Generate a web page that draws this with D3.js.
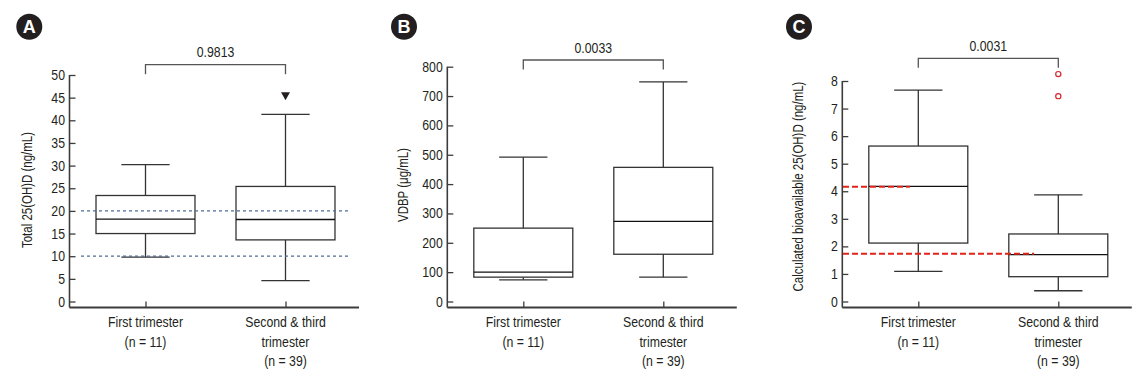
<!DOCTYPE html>
<html><head><meta charset="utf-8">
<script src="https://cdn.jsdelivr.net/npm/d3@7"></script>
<style>html,body{margin:0;padding:0;background:#fff;}svg{display:block;}</style>
</head><body>
<svg id="chart" width="1142" height="376"></svg>
<script>
// ---------- data ----------
const groups = ["First trimester", "Second & third trimester"];
const groupLines = [["First trimester", "(n = 11)"], ["Second & third", "trimester", "(n = 39)"]];

// Panel A: Total 25(OH)D (ng/mL)
const aLow = [9.8, 4.6];
const aQ1 = [15.0, 13.6];
const aMed = [18.2, 18.1];
const aQ3 = [23.4, 25.4];
const aHigh = [30.2, 41.3];
const aOutliers = [[], [45.3]];
const aTicks = [0, 5, 10, 15, 20, 25, 30, 35, 40, 45, 50];
const aRefLines = [10, 20];
const aP = "0.9813";

// Panel B: VDBP (μg/mL)
const bLow = [74, 83];
const bQ1 = [83, 161];
const bMed = [100, 273];
const bQ3 = [250, 457];
const bHigh = [492, 748];
const bOutliers = [[], []];
const bTicks = [0, 100, 200, 300, 400, 500, 600, 700, 800];
const bP = "0.0033";

// Panel C: Calculated bioavailable 25(OH)D (ng/mL)
const cLow = [1.09, 0.39];
const cQ1 = [2.12, 0.90];
const cMed = [4.18, 1.70];
const cQ3 = [5.64, 2.45];
const cHigh = [7.67, 3.87];
const cOutliers = [[], [7.45, 8.25]];
const cTicks = [0, 1, 2, 3, 4, 5, 6, 7, 8];
const cRefLines = [4.16, 1.73];
const cP = "0.0031";

// ---------- font detection ----------
const svg = d3.select("#chart");
function measure(fam) {
  const t = svg.append("text").attr("font-family", fam).attr("font-size", 15).text("First trimester (n = 11)");
  const w = t.node().getComputedTextLength(); t.remove(); return w;
}
const wN = measure("'Liberation Sans Narrow'"), wR = measure("'Liberation Sans'");
let FAM, SX;
if (wN < wR * 0.9) { FAM = "'Liberation Sans Narrow', sans-serif"; SX = 1; }
else { FAM = "'Liberation Sans', Arial, sans-serif"; SX = 0.82; }

function addText(parent, x, y, str, o = {}) {
  const g = parent.append("g").attr("transform", `translate(${x},${y})` + (o.rotate ? ` rotate(${o.rotate})` : ""));
  return g.append("text").attr("transform", `scale(${o.noScale ? 1 : SX},1)`)
    .attr("font-family", o.family || FAM).attr("font-size", o.size || 15)
    .attr("font-weight", o.weight || "normal")
    .attr("text-anchor", o.anchor || "middle").attr("fill", o.fill || "#231f20")
    .attr("dominant-baseline", o.baseline || "auto").text(str);
}

const AX = "#3c3c3c";
const BASE = 307.5, ZERO = 301.5;

function panel(cfg) {
  const g = svg.append("g");
  const ax = cfg.axisX;
  const y = d3.scaleLinear().domain([0, d3.max(cfg.ticks)]).range([ZERO, cfg.top]);
  const x = d3.scaleBand().domain(groups).range([ax + 6, ax + 286]).padding(0);
  const cx = d => x(d) + x.bandwidth() / 2;
  const boxW = x.bandwidth() * 0.707, capW = x.bandwidth() * 0.345;

  // panel letter
  g.append("circle").attr("cx", ax + cfg.letterDx).attr("cy", 26.7).attr("r", 13).attr("fill", "#231f20");
  addText(g, ax + cfg.letterDx, 33.2, cfg.letter, {size: 18, weight: "bold", fill: "#fff", family: "'Liberation Sans', Arial, sans-serif", noScale: true});

  // y axis
  const yAxis = d3.axisLeft(y).tickValues(cfg.ticks).tickSizeInner(-6).tickSizeOuter(0).tickFormat(() => "");
  const ya = g.append("g").attr("transform", `translate(${ax},0)`).call(yAxis);
  ya.select(".domain").remove();
  ya.selectAll("line").attr("stroke", AX).attr("stroke-width", 1.3);
  g.append("line").attr("x1", ax).attr("x2", ax).attr("y1", cfg.top).attr("y2", BASE).attr("stroke", AX).attr("stroke-width", 1.6);
  cfg.ticks.forEach(t => addText(g, ax - 4.5, y(t) + 5, String(t), {anchor: "end"}));

  // x axis
  g.append("line").attr("x1", ax).attr("x2", ax + 289.5).attr("y1", BASE).attr("y2", BASE).attr("stroke", AX).attr("stroke-width", 1.8);
  const xa = g.append("g").attr("transform", `translate(0,${BASE})`)
    .call(d3.axisBottom(d3.scalePoint().domain(groups).range([cx(groups[0]), cx(groups[1])])).tickSizeInner(-6).tickSizeOuter(0).tickFormat(() => ""));
  xa.select(".domain").remove();
  xa.selectAll("line").attr("stroke", AX).attr("stroke-width", 1.3);
  groups.forEach((gname, i) => {
    groupLines[i].forEach((ln, k) => addText(g, cx(gname), 327 + k * 19.5, ln, {size: 15}));
  });

  // y title
  addText(g, ax + cfg.titleDx, cfg.titleY, cfg.title, {rotate: -90, size: 14});

  // reference lines (behind boxes)
  const refG = g.append("g");

  // boxes
  groups.forEach((gname, i) => {
    const c = cx(gname);
    const s = {stroke: "#333", w: 1.3};
    const ln = (x1, y1, x2, y2, col, w) => g.append("line").attr("x1", x1).attr("y1", y1).attr("x2", x2).attr("y2", y2).attr("stroke", col || s.stroke).attr("stroke-width", w || s.w);
    ln(c, y(cfg.high[i]), c, y(cfg.q3[i]));
    ln(c, y(cfg.q1[i]), c, y(cfg.low[i]));
    ln(c - capW / 2, y(cfg.high[i]), c + capW / 2, y(cfg.high[i]));
    ln(c - capW / 2, y(cfg.low[i]), c + capW / 2, y(cfg.low[i]));
    g.append("rect").attr("x", c - boxW / 2).attr("y", y(cfg.q3[i])).attr("width", boxW)
      .attr("height", y(cfg.q1[i]) - y(cfg.q3[i])).attr("fill", "none").attr("stroke", s.stroke).attr("stroke-width", s.w);
    ln(c - boxW / 2, y(cfg.med[i]), c + boxW / 2, y(cfg.med[i]), "#111", 1.3);
    cfg.outliers[i].forEach(v => {
      if (cfg.outlierType === "triangle") {
        const yy = y(v);
        g.append("path").attr("d", `M${c - 4.5},${yy - 4} L${c + 4.5},${yy - 4} L${c},${yy + 4} Z`).attr("fill", "#231f20");
      } else {
        g.append("circle").attr("cx", c).attr("cy", y(v)).attr("r", 2.6).attr("fill", "none").attr("stroke", "#d7262b").attr("stroke-width", 1.2);
      }
    });
  });

  if (cfg.refDraw) cfg.refDraw(refG, g, y, cx, capW);

  // significance bracket
  const c0 = cx(groups[0]), c1 = cx(groups[1]);
  g.append("path").attr("d", `M${c0},${cfg.bracketY + 9.5} V${cfg.bracketY} H${c1} V${cfg.bracketY + 9.5}`)
    .attr("fill", "none").attr("stroke", "#555").attr("stroke-width", 1.3);
  addText(g, (c0 + c1) / 2, cfg.bracketY - 7.5, cfg.p, {size: 15});
}

panel({axisX: 69.5, top: 75, ticks: aTicks, low: aLow, q1: aQ1, med: aMed, q3: aQ3, high: aHigh,
  outliers: aOutliers, outlierType: "triangle", letter: "A", letterDx: -40.2, titleDx: -37.5, titleY: 190,
  title: "Total 25(OH)D (ng/mL)", bracketY: 64.7, p: aP,
  refDraw: (rg, g, y) => {
    aRefLines.forEach(v => g.append("line").attr("x1", 81).attr("x2", 348).attr("y1", y(v)).attr("y2", y(v))
      .attr("stroke", "#4f6b9a").attr("stroke-width", 1.2).attr("stroke-dasharray", "3,3"));
  }});

panel({axisX: 447.3, top: 66.7, ticks: bTicks, low: bLow, q1: bQ1, med: bMed, q3: bQ3, high: bHigh,
  outliers: bOutliers, letter: "B", letterDx: -43.3, titleDx: -39.3, titleY: 185,
  title: "VDBP (μg/mL)", bracketY: 60, p: bP});

panel({axisX: 842.3, top: 81, ticks: cTicks, low: cLow, q1: cQ1, med: cMed, q3: cQ3, high: cHigh,
  outliers: cOutliers, outlierType: "circle", letter: "C", letterDx: -43.3, titleDx: -39.5, titleY: 186.5,
  title: "Calculated bioavailable 25(OH)D (ng/mL)", bracketY: 58.3, p: cP,
  refDraw: (rg, g, y, cx, capW) => {
    const ends = [cx(groups[0]) - 8.5, cx(groups[1]) - capW / 2];
    cRefLines.forEach((v, i) => g.append("line").attr("x1", 843).attr("x2", ends[i]).attr("y1", y(v)).attr("y2", y(v))
      .attr("stroke", "#e2231a").attr("stroke-width", 2).attr("stroke-dasharray", "6,3"));
  }});
</script>
</body></html>
